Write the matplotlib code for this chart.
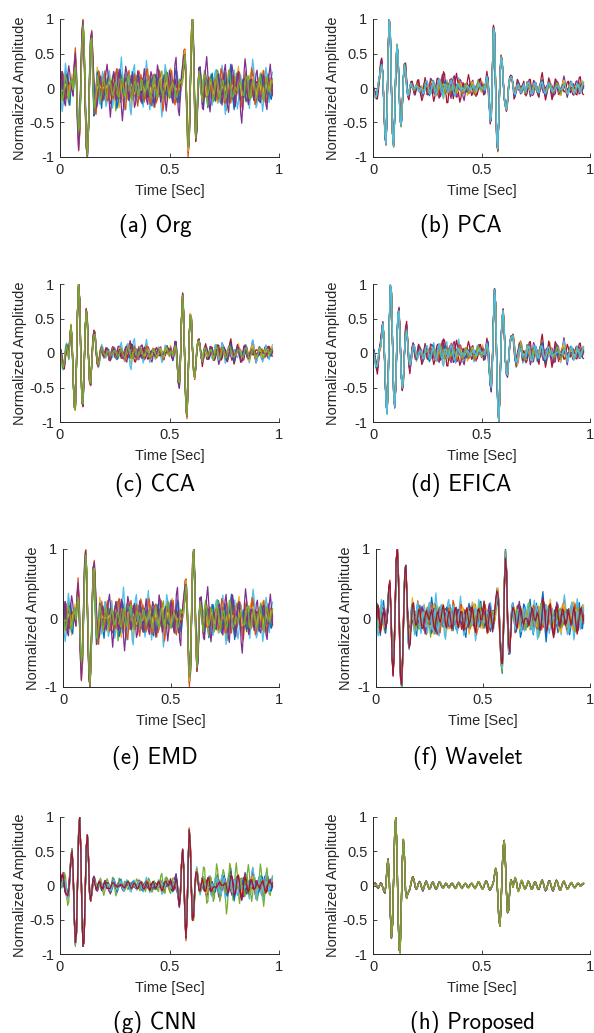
import numpy as np
import matplotlib
matplotlib.use('Agg')
import matplotlib.pyplot as plt

# sample grid: 0 .. 0.97 s, 5 ms step
fs_step = 0.005

# clean (proposed) signal
sig_prop = [
    0.00, 0.02, 0.03, 0.01, -0.02, -0.03, 0.00, 0.03, 0.02, -0.03, -0.08, -0.10, 0.02, 0.28, 0.37,
    0.10, -0.40, -0.74, -0.55, 0.10, 0.75, 0.97, 0.55, -0.30, -0.90, -0.95, -0.35, 0.35, 0.65, 0.40,
    -0.08, -0.18, -0.12, -0.08, -0.05, 0.03, 0.10, 0.12, 0.06, -0.02, -0.05, -0.02, 0.03, 0.05, 0.02,
    -0.04, -0.07, -0.03, 0.03, 0.06, 0.03, -0.02, -0.05, -0.03, 0.02, 0.05, 0.03, -0.02, -0.05, -0.04,
    0.01, 0.05, 0.04, 0.00, -0.03, -0.03, 0.00, 0.03, 0.02, -0.01, -0.03, -0.01, 0.02, 0.03, 0.01,
    -0.02, -0.04, -0.02, 0.02, 0.04, 0.02, -0.02, -0.04, -0.02, 0.01, 0.03, 0.02, -0.02, -0.03, -0.01,
    0.02, 0.03, 0.01, -0.02, -0.04, -0.02, 0.02, 0.05, 0.04, 0.00, -0.03, -0.05, -0.02, 0.03, 0.06,
    0.05, 0.00, -0.05, -0.06, -0.03, 0.00, 0.05, 0.15, 0.24, 0.18, -0.15, -0.48, -0.57, -0.30, 0.20,
    0.55, 0.63, 0.35, -0.10, -0.38, -0.35, -0.08, 0.08, 0.05, -0.02, 0.05, 0.11, 0.07, -0.03, -0.08,
    -0.04, 0.03, 0.07, 0.04, -0.02, -0.05, -0.03, 0.02, 0.06, 0.04, -0.01, -0.05, -0.04, 0.01, 0.05,
    0.04, -0.01, -0.05, -0.05, 0.00, 0.05, 0.07, 0.03, -0.03, -0.07, -0.05, 0.01, 0.06, 0.06, 0.01,
    -0.05, -0.07, -0.03, 0.03, 0.07, 0.05, -0.01, -0.06, -0.06, -0.01, 0.04, 0.06, 0.03, -0.02, -0.05,
    -0.04, 0.00, 0.03, 0.04, 0.01, -0.02, -0.03, -0.01, 0.02, 0.03, 0.02, -0.01, 0.00, 0.02, 0.03,
]

# first burst (samples 0-44) and second burst (samples 100-139) of each method
b1_org = [
    0.00, 0.05, 0.02, -0.05, -0.03, 0.04, 0.06, 0.00, -0.06, -0.04, 0.05, 0.08, -0.05, 0.25, 0.40,
    0.15, -0.40, -0.75, -0.60, 0.05, 0.70, 0.96, 0.65, -0.15, -0.80, -0.98, -0.60, 0.15, 0.70, 0.75,
    0.25, -0.20, -0.30, -0.15, 0.05, 0.10, 0.05, -0.04, -0.06, 0.00, 0.05, 0.03, -0.03, -0.04, 0.00,
]
b2_org = [
    0.00, 0.03, 0.00, -0.04, -0.02, 0.04, 0.05, 0.00, -0.05, -0.05, 0.00, 0.10, 0.20, 0.40, 0.50,
    0.20, -0.45, -0.88, -0.75, 0.00, 0.75, 0.98, 0.55, -0.30, -0.74, -0.55, -0.05, 0.25, 0.20, 0.00,
    -0.10, -0.05, 0.05, 0.08, 0.02, -0.05, -0.05, 0.00, 0.04, 0.03,
]
b1_pca = [
    0.00, -0.05, -0.10, -0.12, -0.05, 0.05, 0.15, 0.28, 0.35, 0.20, -0.20, -0.65, -0.80, -0.30, 0.55,
    0.98, 0.75, 0.00, -0.65, -0.82, -0.40, 0.25, 0.60, 0.50, 0.00, -0.45, -0.53, -0.25, 0.15, 0.33,
    0.28, 0.05, -0.10, -0.10, 0.00, 0.06, 0.04, 0.00, -0.03, -0.02, 0.02, 0.03, 0.00, -0.03, -0.02,
]
b2_pca = [
    0.00, 0.03, 0.00, -0.05, 0.05, 0.15, 0.10, -0.15, -0.45, -0.42, 0.20, 0.85, 0.78, 0.00, -0.70,
    -0.88, -0.40, 0.15, 0.45, 0.40, 0.10, -0.15, -0.25, -0.30, -0.18, 0.02, 0.12, 0.14, 0.15, 0.05,
    -0.05, -0.08, -0.03, 0.03, 0.05, 0.02, -0.03, -0.04, 0.00, 0.03,
]
b1_cca = [
    0.05, 0.00, -0.12, -0.20, -0.15, 0.00, 0.10, 0.05, -0.05, 0.20, 0.40, 0.20, -0.35, -0.78, -0.82,
    -0.20, 0.60, 1.00, 0.75, -0.05, -0.70, -0.75, -0.25, 0.35, 0.62, 0.45, -0.05, -0.40, -0.45, -0.15,
    0.15, 0.28, 0.28, 0.05, -0.12, -0.18, -0.10, 0.03, 0.08, 0.03, -0.03, -0.04, 0.00, 0.03, 0.02,
]
b2_cca = [
    0.00, 0.05, 0.00, -0.08, 0.00, 0.12, 0.12, -0.10, -0.40, -0.47, -0.10, 0.50, 0.85, 0.55, -0.20,
    -0.80, -0.92, -0.40, 0.25, 0.55, 0.50, 0.05, -0.25, -0.35, -0.20, 0.05, 0.15, 0.18, 0.08, -0.05,
    -0.10, -0.05, 0.03, 0.05, 0.02, -0.03, -0.04, 0.00, 0.03, 0.02,
]
b1_efica = [
    0.05, 0.00, -0.10, -0.18, -0.20, -0.08, 0.05, 0.10, 0.25, 0.42, 0.25, -0.25, -0.70, -0.85, -0.40,
    0.40, 0.95, 0.85, 0.15, -0.55, -0.75, -0.45, 0.15, 0.55, 0.60, 0.20, -0.30, -0.50, -0.38, 0.00,
    0.28, 0.35, 0.15, -0.10, -0.20, -0.12, 0.02, 0.10, 0.08, 0.00, -0.06, -0.04, 0.02, 0.04, 0.01,
]
b2_efica = [
    0.00, 0.04, 0.00, -0.05, 0.02, 0.12, 0.10, -0.15, -0.40, -0.50, -0.15, 0.45, 0.90, 0.70, -0.10,
    -0.75, -0.98, -0.55, 0.15, 0.50, 0.60, 0.30, -0.10, -0.28, -0.30, -0.10, 0.10, 0.20, 0.22, 0.25,
    0.15, -0.05, -0.15, -0.12, 0.00, 0.10, 0.12, 0.03, -0.08, -0.05,
]
b1_wav = [
    0.00, 0.04, 0.02, -0.04, -0.05, 0.02, 0.06, 0.02, -0.05, -0.08, -0.02, 0.15, 0.40, 0.45, 0.05,
    -0.50, -0.76, -0.45, 0.20, 0.80, 0.98, 0.60, -0.20, -0.85, -0.98, -0.55, 0.15, 0.68, 0.72, 0.25,
    -0.20, -0.30, -0.18, 0.00, 0.08, 0.05, -0.03, -0.05, 0.00, 0.04, 0.03, -0.02, -0.04, -0.01, 0.02,
]
b2_wav = [
    0.00, 0.03, 0.02, -0.02, -0.04, -0.01, 0.03, 0.04, 0.00, -0.04, -0.03, 0.05, 0.18, 0.32, 0.36,
    0.10, -0.30, -0.62, -0.70, -0.25, 0.50, 0.90, 0.65, -0.05, -0.45, -0.48, -0.15, 0.12, 0.15, 0.05,
    -0.05, -0.06, 0.00, 0.05, 0.04, -0.02, -0.04, -0.01, 0.03, 0.03,
]
b1_cnn = [
    0.00, 0.05, 0.10, 0.12, 0.05, -0.05, -0.12, -0.18, -0.10, 0.15, 0.40, 0.52, 0.20, -0.45, -0.85,
    -0.70, 0.00, 0.75, 1.00, 0.50, -0.35, -0.88, -0.80, -0.10, 0.55, 0.73, 0.40, -0.10, -0.22, -0.12,
    0.05, 0.10, 0.05, -0.03, -0.05, 0.00, 0.04, 0.02, -0.02, -0.03, 0.00, 0.02, 0.01, -0.01, 0.00,
]
b2_cnn = [
    0.00, 0.02, -0.02, -0.03, 0.00, 0.05, 0.08, 0.00, -0.15, -0.25, -0.10, 0.30, 0.50, 0.25, -0.40,
    -0.75, -0.45, 0.30, 0.80, 0.60, -0.05, -0.48, -0.45, -0.10, 0.15, 0.20, 0.08, -0.05, -0.08, 0.00,
    0.06, 0.05, 0.00, -0.05, -0.04, 0.02, 0.05, 0.02, -0.03, -0.04,
]

# residual noise shapes (unit scale), shared by the channels
noise1 = [
    0.2, 0.6, 0.4, -0.3, -0.7, -0.4, 0.3, 0.8, 0.5, -0.2, -0.5, -0.1, 0.4, 0.3, -0.4,
    -0.9, -0.5, 0.2, 0.6, 0.3, -0.3, -0.4, 0.1, 0.7, 0.9, 0.2, -0.6, -0.8, -0.2, 0.4,
    0.5, 0.1, -0.3, -0.2, 0.3, 0.6, 0.1, -0.5, -0.9, -0.4, 0.3, 0.7, 0.4, -0.2, -0.3,
    0.0, 0.4, 0.2, -0.4, -0.6, -0.1, 0.5, 1.0, 0.6, -0.3, -0.8, -0.5, 0.1, 0.3, 0.0,
    -0.4, -0.2, 0.3, 0.5, 0.2, -0.2, -0.6, -0.3, 0.4, 0.7, 0.3, -0.4, -0.7, -0.3, 0.2,
    0.6, 0.5, -0.1, -0.5, -0.2, 0.3, 0.4, -0.1, -0.7, -1.0, -0.4, 0.4, 0.8, 0.5, -0.1,
    -0.4, -0.1, 0.3, 0.2, -0.3, -0.5, 0.0, 0.6, 0.7, 0.1, -0.5, -0.6, -0.1, 0.4, 0.5,
    0.0, -0.6, -0.8, -0.2, 0.5, 0.8, 0.3, -0.3, -0.4, 0.1, 0.5, 0.2, -0.4, -0.7, -0.2,
    0.4, 0.9, 0.6, -0.2, -0.6, -0.3, 0.2, 0.3, -0.1, -0.5, -0.3, 0.3, 0.6, 0.2, -0.5,
    -0.9, -0.6, 0.1, 0.6, 0.5, 0.0, -0.3, -0.1, 0.4, 0.8, 0.4, -0.3, -0.7, -0.4, 0.2,
    0.5, 0.2, -0.3, -0.5, 0.0, 0.6, 0.9, 0.4, -0.4, -0.8, -0.4, 0.2, 0.4, 0.1, -0.3,
    -0.2, 0.3, 0.5, 0.1, -0.6, -0.9, -0.4, 0.3, 0.7, 0.4, -0.2, -0.4, 0.0, 0.5, 0.4,
    -0.2, -0.7, -0.5, 0.2, 0.6, 0.3, -0.3, -0.5, -0.1, 0.4, 0.7, 0.2, -0.5, -0.6, 0.0,
]
noise2 = [
    -0.3, -0.6, -0.2, 0.4, 0.7, 0.3, -0.4, -0.6, 0.0, 0.5, 0.3, -0.2, -0.5, -0.1, 0.6,
    0.9, 0.4, -0.3, -0.7, -0.4, 0.2, 0.5, 0.2, -0.3, -0.8, -0.6, 0.1, 0.7, 0.6, 0.0,
    -0.4, -0.3, 0.2, 0.5, 0.1, -0.5, -0.7, -0.2, 0.4, 0.9, 0.5, -0.2, -0.4, 0.0, 0.3,
    0.1, -0.5, -0.9, -0.5, 0.3, 0.7, 0.4, -0.1, -0.3, 0.1, 0.6, 0.4, -0.3, -0.7, -0.3,
    0.3, 0.6, 0.2, -0.4, -0.5, 0.0, 0.4, 0.3, -0.2, -0.6, -0.3, 0.4, 1.0, 0.7, -0.1,
    -0.6, -0.4, 0.1, 0.3, -0.1, -0.5, -0.3, 0.3, 0.6, 0.2, -0.3, -0.6, -0.2, 0.5, 0.8,
    0.3, -0.4, -0.7, -0.3, 0.2, 0.4, 0.1, -0.4, -0.5, 0.0, 0.5, 0.6, 0.1, -0.5, -0.8,
    -0.3, 0.4, 0.6, 0.2, -0.2, -0.1, 0.3, 0.5, 0.0, -0.6, -0.9, -0.4, 0.3, 0.6, 0.3,
    -0.2, -0.5, -0.1, 0.5, 0.7, 0.2, -0.4, -0.6, -0.2, 0.3, 0.5, 0.1, -0.3, -0.2, 0.3,
    0.7, 0.5, -0.2, -0.8, -0.7, 0.0, 0.5, 0.4, -0.1, -0.4, -0.1, 0.4, 0.6, 0.1, -0.5,
    -0.7, -0.2, 0.4, 0.5, 0.0, -0.4, -0.3, 0.2, 0.8, 0.7, 0.0, -0.6, -0.5, 0.1, 0.4,
    0.2, -0.3, -0.6, -0.2, 0.4, 0.6, 0.2, -0.3, -0.4, 0.1, 0.6, 0.9, 0.3, -0.5, -0.8,
    -0.3, 0.3, 0.5, 0.1, -0.4, -0.6, -0.1, 0.5, 0.6, 0.1, -0.4, -0.3, 0.2, 0.4, 0.1,
]
noise3 = [
    0.5, 0.1, -0.5, -0.6, 0.0, 0.6, 0.5, -0.1, -0.6, -0.4, 0.2, 0.8, 0.6, -0.2, -0.7,
    -0.4, 0.2, 0.4, 0.0, -0.5, -0.3, 0.3, 0.7, 0.3, -0.4, -0.9, -0.5, 0.2, 0.5, 0.2,
    -0.3, -0.6, -0.1, 0.5, 0.8, 0.3, -0.3, -0.5, -0.1, 0.3, 0.2, -0.3, -0.6, -0.2, 0.5,
    0.9, 0.5, -0.2, -0.6, -0.3, 0.2, 0.4, 0.1, -0.5, -0.8, -0.3, 0.4, 0.6, 0.2, -0.2,
    -0.1, 0.3, 0.6, 0.2, -0.5, -0.9, -0.5, 0.2, 0.6, 0.4, -0.1, -0.3, 0.1, 0.5, 0.3,
    -0.3, -0.6, -0.2, 0.4, 0.7, 0.3, -0.3, -0.4, 0.0, 0.4, 0.2, -0.4, -0.8, -0.4, 0.3,
    0.8, 0.6, 0.0, -0.4, -0.2, 0.2, 0.1, -0.4, -0.7, -0.2, 0.5, 0.8, 0.4, -0.3, -0.5,
    -0.1, 0.3, 0.2, -0.3, -0.6, -0.2, 0.4, 0.6, 0.1, -0.5, -0.7, -0.2, 0.4, 0.7, 0.3,
    -0.3, -0.4, 0.0, 0.4, 0.3, -0.2, -0.6, -0.3, 0.3, 0.9, 0.6, -0.1, -0.6, -0.5, 0.0,
    0.3, 0.1, -0.3, -0.4, 0.1, 0.6, 0.5, -0.1, -0.7, -0.8, -0.2, 0.4, 0.5, 0.1, -0.2,
    0.0, 0.5, 0.7, 0.2, -0.5, -0.7, -0.2, 0.3, 0.3, -0.2, -0.5, -0.1, 0.5, 0.8, 0.3,
    -0.4, -0.6, -0.1, 0.3, 0.1, -0.4, -0.6, 0.0, 0.6, 0.7, 0.1, -0.5, -0.5, 0.1, 0.4,
    0.2, -0.3, -0.5, 0.0, 0.6, 0.8, 0.2, -0.5, -0.7, -0.2, 0.3, 0.4, 0.0, -0.3, -0.1,
]
noise4 = [
    -0.6, -0.2, 0.4, 0.5, 0.0, -0.3, -0.1, 0.4, 0.6, 0.1, -0.6, -0.8, -0.2, 0.4, 0.5,
    0.1, -0.3, -0.1, 0.5, 0.9, 0.4, -0.4, -0.7, -0.3, 0.2, 0.3, -0.1, -0.5, -0.3, 0.3,
    0.7, 0.4, -0.2, -0.5, -0.2, 0.3, 0.5, 0.0, -0.6, -0.7, -0.1, 0.5, 0.6, 0.1, -0.4,
    -0.5, 0.0, 0.5, 0.4, -0.2, -0.6, -0.3, 0.3, 0.8, 0.5, -0.2, -0.5, -0.2, 0.2, 0.1,
    -0.4, -0.7, -0.3, 0.4, 0.8, 0.5, -0.1, -0.4, -0.1, 0.3, 0.2, -0.3, -0.6, -0.1, 0.5,
    0.7, 0.2, -0.4, -0.5, 0.0, 0.5, 0.6, 0.1, -0.5, -0.9, -0.5, 0.2, 0.4, 0.1, -0.3,
    -0.2, 0.3, 0.6, 0.3, -0.3, -0.6, -0.2, 0.4, 0.5, 0.0, -0.4, -0.3, 0.2, 0.6, 0.3,
    -0.4, -0.9, -0.6, 0.1, 0.6, 0.5, 0.0, -0.3, 0.0, 0.5, 0.7, 0.2, -0.5, -0.6, -0.1,
    0.3, 0.2, -0.3, -0.6, -0.1, 0.5, 0.8, 0.4, -0.3, -0.5, -0.1, 0.4, 0.3, -0.3, -0.7,
    -0.4, 0.2, 0.6, 0.4, -0.1, -0.3, 0.1, 0.5, 0.2, -0.5, -0.8, -0.3, 0.4, 0.7, 0.3,
    -0.2, -0.4, -0.1, 0.4, 0.5, 0.0, -0.6, -0.7, -0.1, 0.5, 0.6, 0.1, -0.3, -0.2, 0.3,
    0.6, 0.2, -0.5, -0.8, -0.3, 0.3, 0.5, 0.1, -0.3, -0.2, 0.4, 0.8, 0.4, -0.3, -0.6,
    -0.2, 0.3, 0.4, -0.1, -0.6, -0.5, 0.1, 0.6, 0.5, -0.1, -0.5, -0.3, 0.2, 0.3, 0.0,
]
noise5 = [
    0.3, -0.2, -0.5, -0.1, 0.5, 0.7, 0.2, -0.4, -0.5, 0.0, 0.4, 0.2, -0.3, -0.7, -0.4,
    0.3, 0.8, 0.5, -0.2, -0.5, -0.1, 0.4, 0.3, -0.3, -0.6, -0.2, 0.5, 0.8, 0.3, -0.4,
    -0.6, -0.1, 0.4, 0.3, -0.2, -0.4, 0.1, 0.6, 0.4, -0.3, -0.8, -0.5, 0.2, 0.6, 0.3,
    -0.2, -0.3, 0.1, 0.5, 0.2, -0.5, -0.9, -0.4, 0.3, 0.6, 0.2, -0.2, -0.1, 0.4, 0.7,
    0.2, -0.5, -0.7, -0.2, 0.4, 0.5, 0.0, -0.4, -0.2, 0.3, 0.7, 0.4, -0.3, -0.6, -0.2,
    0.3, 0.4, -0.1, -0.6, -0.4, 0.2, 0.7, 0.6, -0.1, -0.6, -0.5, 0.0, 0.3, 0.1, -0.3,
    -0.5, 0.0, 0.6, 0.9, 0.3, -0.4, -0.6, -0.1, 0.3, 0.2, -0.3, -0.5, 0.0, 0.5, 0.4,
    0.0, -0.3, -0.1, 0.4, 0.6, 0.1, -0.6, -0.8, -0.2, 0.4, 0.5, 0.0, -0.4, -0.2, 0.3,
    0.6, 0.2, -0.4, -0.7, -0.3, 0.3, 0.5, 0.2, -0.2, -0.3, 0.1, 0.6, 0.7, 0.1, -0.6,
    -0.7, -0.2, 0.3, 0.4, 0.0, -0.5, -0.4, 0.2, 0.7, 0.5, -0.1, -0.5, -0.3, 0.2, 0.5,
    0.3, -0.3, -0.8, -0.5, 0.2, 0.6, 0.4, -0.1, -0.4, -0.1, 0.5, 0.7, 0.2, -0.4, -0.6,
    -0.1, 0.4, 0.3, -0.2, -0.5, -0.2, 0.4, 0.8, 0.5, -0.2, -0.6, -0.4, 0.1, 0.3, 0.0,
    -0.4, -0.3, 0.2, 0.6, 0.4, -0.2, -0.6, -0.3, 0.3, 0.5, 0.1, -0.3, -0.4, 0.0, 0.3,
]

# noise level per 50 ms window
env_org = [0.3, 0.15, 0.12, 0.3, 0.3, 0.35, 0.3, 0.3, 0.3, 0.3, 0.3, 0.15, 0.15, 0.3, 0.3, 0.35, 0.3, 0.3, 0.3, 0.3]
env_pca = [0.08, 0.04, 0.04, 0.08, 0.12, 0.15, 0.2, 0.2, 0.15, 0.12, 0.1, 0.04, 0.04, 0.08, 0.1, 0.1, 0.1, 0.1, 0.12, 0.15]
env_cca = [0.1, 0.04, 0.04, 0.08, 0.1, 0.12, 0.2, 0.15, 0.12, 0.1, 0.1, 0.04, 0.04, 0.12, 0.15, 0.15, 0.12, 0.12, 0.12, 0.15]
env_efica = [0.08, 0.04, 0.04, 0.1, 0.12, 0.15, 0.2, 0.2, 0.15, 0.12, 0.12, 0.04, 0.04, 0.12, 0.15, 0.15, 0.15, 0.15, 0.12, 0.15]
env_wav = [0.25, 0.1, 0.1, 0.25, 0.25, 0.3, 0.25, 0.25, 0.25, 0.25, 0.25, 0.15, 0.12, 0.25, 0.25, 0.3, 0.25, 0.25, 0.3, 0.25]
env_cnn = [0.15, 0.04, 0.04, 0.08, 0.1, 0.08, 0.08, 0.1, 0.1, 0.12, 0.15, 0.08, 0.08, 0.2, 0.2, 0.25, 0.25, 0.25, 0.25, 0.2]
env_prop = [0.01] * 20

# relative noise gain of each channel
gain_org = [1.0, 0.8, 1.2, 0.7, 1.0, 1.4, 0.6, 0.9, 1.1, 0.5, 1.3, 0.8]
gain_emd = [1.0, 0.9, 1.2, 0.7, 1.0, 1.4, 0.6, 0.8, 1.1, 0.5, 1.3, 0.8]
gain_pca = [0.5, 0.6, 0.7, 1.4, 0.5, 0.6, 1.6, 0.5, 0.6, 0.7, 0.5, 0.4, 0.6]
gain_cca = [0.6, 0.5, 0.8, 1.3, 0.6, 1.2, 1.0, 0.5, 0.7, 0.6, 0.5, 0.5]
gain_efica = [0.6, 0.6, 0.8, 1.3, 0.6, 0.9, 1.4, 0.6, 0.7, 0.6, 0.5, 0.5, 0.6]
gain_wav = [1.2, 1.0, 1.1, 0.8, 1.0, 1.3, 0.8, 0.7, 1.0, 0.9, 0.8, 0.7, 0.8, 0.9]
gain_cnn = [0.8, 0.6, 0.5, 1.0, 1.8, 0.9, 0.6, 0.7, 0.5, 0.4, 0.6, 0.7, 0.5, 0.6]
gain_prop = [1.0, 0.8, 1.2, 0.7, 1.0, 0.9, 1.1, 0.6, 1.0, 0.8, 1.2, 0.9]

captions = ['(a) Org', '(b) PCA', '(c) CCA', '(d) EFICA',
            '(e) EMD', '(f) Wavelet', '(g) CNN', '(h) Proposed']

matlab_colors = ['#0072BD', '#D95319', '#EDB120', '#7E2F8E', '#77AC30', '#4DBEEE', '#A2142F']
axc = '#262626'

W, H = 594, 1033
fig = plt.figure(figsize=(W / 100, H / 100), dpi=100)

# pixel boxes (left, top, right, bottom) and caption centre
boxes = [
    ((60, 19, 279, 157), (155, 226)),
    ((373, 19, 590, 157), (461, 226)),
    ((60, 284, 279, 422), (155, 485)),
    ((373, 284, 590, 422), (461, 485)),
    ((63, 549, 279, 687), (155, 758)),
    ((376, 549, 590, 687), (468, 758)),
    ((60, 817, 279, 954), (155, 1023)),
    ((373, 817, 590, 954), (472, 1023)),
]

panels = [
    (b1_org, b2_org, env_org, gain_org),
    (b1_pca, b2_pca, env_pca, gain_pca),
    (b1_cca, b2_cca, env_cca, gain_cca),
    (b1_efica, b2_efica, env_efica, gain_efica),
    (b1_org, b2_org, env_org, gain_emd),
    (b1_wav, b2_wav, env_wav, gain_wav),
    (b1_cnn, b2_cnn, env_cnn, gain_cnn),
    (None, None, env_prop, gain_prop),
]

noises = [np.array(n) for n in (noise1, noise2, noise3, noise4, noise5)]
clean = np.array(sig_prop)
t = np.arange(len(clean)) * fs_step

for i, ((box, cap), (b1, b2, env, gains)) in enumerate(zip(boxes, panels)):
    l, tp, r, b = box
    ax = fig.add_axes([l / W, 1 - b / H, (r - l) / W, (b - tp) / H])

    base = clean.copy()
    if b1 is not None:
        base[0:len(b1)] = b1
        base[100:100 + len(b2)] = b2
    e = np.repeat(env, 10)[:len(t)]

    for k, g in enumerate(gains):
        src = noises[k % 5]
        shift = 41 * (k // 5)
        sgn = 1 if (k // 5) % 2 == 0 else -1
        y = base + sgn * g * e * np.roll(src, shift)
        y = y / np.abs(y).max()
        ax.plot(t, y, color=matlab_colors[k % 7], lw=0.9)

    ax.set_xlim(0, 1)
    ax.set_ylim(-1, 1)
    ax.set_xticks([0, 0.5, 1])
    ax.set_xticklabels(['0', '0.5', '1'])
    if i in (4, 5):
        ax.set_yticks([-1, 0, 1])
        ax.set_yticklabels(['-1', '0', '1'])
        ylab_off = -23 / (r - l)
    else:
        ax.set_yticks([-1, -0.5, 0, 0.5, 1])
        ax.set_yticklabels(['-1', '-0.5', '0', '0.5', '1'])
        ylab_off = -33 / (r - l)
    for s in ('top', 'right'):
        ax.spines[s].set_visible(False)
    for s in ('left', 'bottom'):
        ax.spines[s].set_color(axc)
        ax.spines[s].set_linewidth(0.7)
    ax.tick_params(direction='in', length=3, width=0.6, colors=axc,
                   labelsize=10.5, pad=4)
    for lab in ax.get_xticklabels() + ax.get_yticklabels():
        lab.set_family('Liberation Sans')
    ax.set_xlabel('Time [Sec]', fontsize=10.5, color=axc, family='Liberation Sans')
    ax.set_ylabel('Normalized Amplitude', fontsize=10.5, color=axc, family='Liberation Sans')
    ax.xaxis.set_label_coords(0.5, -27 / (b - tp))
    ax.yaxis.set_label_coords(ylab_off, 0.5)

    fig.text(cap[0] / W, 1 - cap[1] / H, captions[i], ha='center', va='center',
             fontsize=16.5, family='cmss10', color='black')

fig.savefig('out.png', dpi=100)
